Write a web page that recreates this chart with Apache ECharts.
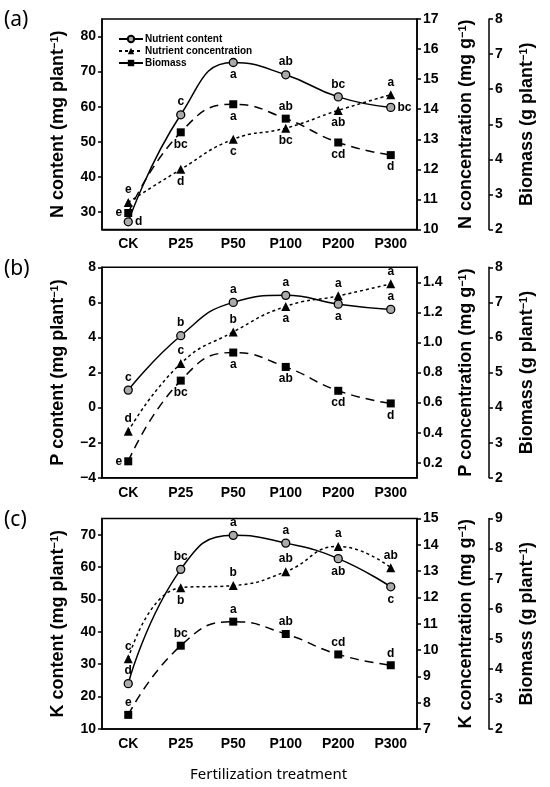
<!DOCTYPE html>
<html>
<head>
<meta charset="utf-8">
<script src="https://cdn.jsdelivr.net/npm/echarts@6/dist/echarts.min.js"></script>
<style>
  html, body { margin: 0; padding: 0; background: #fff; }
  #chart { width: 550px; height: 787px; }
</style>
</head>
<body>
<div id="chart"></div>
<script>
// treatments on the x axis
const categories = ["CK", "P25", "P50", "P100", "P200", "P300"];

// (a) nitrogen
const nContent = [27.2, 57.7, 72.6, 69.1, 62.8, 59.8];
const nConc = [10.9, 12.0, 13.0, 13.37, 13.96, 14.48];
// (b) phosphorus
const pContent = [1.0, 4.1, 6.0, 6.4, 5.9, 5.6];
const pConc = [0.41, 0.86, 1.07, 1.24, 1.31, 1.39];
// (c) potassium
const kContent = [24.0, 59.3, 69.8, 67.4, 62.6, 53.9];
const kConc = [9.67, 12.37, 12.45, 12.98, 13.94, 13.13];
// biomass is the same plants in every panel
const biomass = [2.47, 4.77, 5.57, 5.16, 4.48, 4.12];

// significance letters
const nContentSig = ["d", "c", "a", "ab", "bc", "bc"];
const nConcSig = ["e", "d", "c", "bc", "ab", "a"];
const nBioSig = ["e", "bc", "a", "ab", "cd", "d"];
const pContentSig = ["c", "b", "a", "a", "a", "a"];
const pConcSig = ["d", "c", "b", "a", "a", "a"];
const pBioSig = ["e", "bc", "a", "ab", "cd", "d"];
const kContentSig = ["d", "bc", "a", "a", "ab", "c"];
const kConcSig = ["c", "b", "b", "ab", "a", "ab"];
const kBioSig = ["e", "bc", "a", "ab", "cd", "d"];

// tick labels
const nContentTicks = [30, 40, 50, 60, 70, 80];
const nConcTicks = [10, 11, 12, 13, 14, 15, 16, 17];
const pContentTicks = [-4, -2, 0, 2, 4, 6, 8];
const pConcTicks = [0.2, 0.4, 0.6, 0.8, 1.0, 1.2, 1.4];
const kContentTicks = [10, 20, 30, 40, 50, 60, 70];
const kConcTicks = [7, 8, 9, 10, 11, 12, 13, 14, 15];
const bioTicksAB = [2, 3, 4, 5, 6, 7, 8];
const bioTicksC = [2, 3, 4, 5, 6, 7, 8, 9];

// where each letter sits (style only)
const labelPos = {
  nContent: ["right", "top", "bottom", "top", "top", "right"],
  nConc: ["top", "bottom", "bottom", "bottom", "bottom", "top"],
  nBio: ["left", "bottom", "bottom", "top", "bottom", "bottom"],
  pContent: ["top", "top", "top", "top", "bottom", "top"],
  pConc: ["top", "top", "top", "bottom", "top", "top"],
  pBio: ["left", "bottom", "bottom", "bottom", "bottom", "bottom"],
  kContent: ["top", "top", "top", "top", "bottom", "bottom"],
  kConc: ["top", "bottom", "top", "top", "top", "top"],
  kBio: ["top", "top", "top", "top", "top", "top"]
};

const FONT = "Liberation Sans, Arial, sans-serif";
const gridTops = [19, 267.3, 518.5];
const gridH = 210.5;

const panels = [
  {
    tag: "(a)", el: "N",
    content: nContent, conc: nConc, contentSig: nContentSig, concSig: nConcSig, bioSig: nBioSig,
    contentRange: [25, 85], contentTicks: nContentTicks,
    concRange: [10, 17], concTicks: nConcTicks, concFmt: v => String(v),
    bioRange: [2, 8], bioTicks: bioTicksAB,
    pos: ["nContent", "nConc", "nBio"]
  },
  {
    tag: "(b)", el: "P",
    content: pContent, conc: pConc, contentSig: pContentSig, concSig: pConcSig, bioSig: pBioSig,
    contentRange: [-4, 8], contentTicks: pContentTicks,
    concRange: [0.1, 1.5], concTicks: pConcTicks, concFmt: v => v.toFixed(1),
    bioRange: [2, 8], bioTicks: bioTicksAB,
    pos: ["pContent", "pConc", "pBio"]
  },
  {
    tag: "(c)", el: "K",
    content: kContent, conc: kConc, contentSig: kContentSig, concSig: kConcSig, bioSig: kBioSig,
    contentRange: [10, 75], contentTicks: kContentTicks,
    concRange: [7, 15], concTicks: kConcTicks, concFmt: v => String(v),
    bioRange: [2, 9], bioTicks: bioTicksC,
    pos: ["kContent", "kConc", "kBio"]
  }
];

const nameStyle = {
  fontFamily: FONT, fontSize: 18, fontWeight: "bold", color: "#000",
  rich: {
    sup: { fontFamily: FONT, fontSize: 11, fontWeight: "bold", color: "#000", verticalAlign: "top", padding: [0, 0, 8, 0] }
  }
};

function valueAxis(gridIndex, range, ticks, fmt, side, offset, name, nameGap) {
  return {
    type: "value",
    gridIndex: gridIndex,
    position: side,
    offset: offset,
    min: range[0],
    max: range[1],
    splitLine: { show: false },
    axisLine: { show: true, onZero: false, lineStyle: { color: "#000", width: 1.5 } },
    axisTick: { show: true, length: 4, customValues: ticks, lineStyle: { color: "#000", width: 1.5 } },
    axisLabel: {
      customValues: ticks,
      margin: 6,
      fontFamily: FONT, fontSize: 14, fontWeight: "bold", color: "#000",
      formatter: v => fmt(v).replace("-", "\u2212")
    },
    name: name,
    nameLocation: "middle",
    nameRotate: 90,
    nameGap: nameGap,
    nameTextStyle: nameStyle
  };
}

function pointData(values, sig, pos) {
  return values.map((v, j) => ({
    value: v,
    label: { formatter: sig[j], position: pos[j] }
  }));
}

const grids = [], xAxes = [], yAxes = [], series = [];

panels.forEach((p, i) => {
  grids.push({
    left: 102, width: 315, top: gridTops[i], height: gridH,
    show: true, borderColor: "#000", borderWidth: 1.5
  });
  xAxes.push({
    type: "category",
    gridIndex: i,
    data: categories,
    boundaryGap: true,
    axisLine: { onZero: false, lineStyle: { color: "#000", width: 1.5 } },
    axisTick: { alignWithLabel: true, length: 4, lineStyle: { color: "#000", width: 1.5 } },
    axisLabel: { margin: 8, fontFamily: FONT, fontSize: 14, fontWeight: "bold", color: "#000" }
  });
  yAxes.push(valueAxis(i, p.contentRange, p.contentTicks, v => String(v), "left", 0,
    p.el + " content (mg plant{sup|\u22121})", 34));
  yAxes.push(valueAxis(i, p.concRange, p.concTicks, p.concFmt, "right", 0,
    p.el + " concentration (mg g{sup|\u22121})", 40));
  yAxes.push(valueAxis(i, p.bioRange, p.bioTicks, v => String(v), "right", 72,
    "Biomass (g plant{sup|\u22121})", 29));

  const labelBase = {
    show: true, distance: 2, color: "#000",
    fontFamily: FONT, fontSize: 12, fontWeight: "bold"
  };
  series.push({
    name: "Nutrient content", type: "line", smooth: true, clip: false,
    xAxisIndex: i, yAxisIndex: i * 3,
    symbol: "circle", symbolSize: 8,
    itemStyle: { color: "#aaa", borderColor: "#000", borderWidth: 1.3 },
    lineStyle: { color: "#000", width: 1.5 },
    label: labelBase,
    data: pointData(p.content, p.contentSig, labelPos[p.pos[0]])
  });
  series.push({
    name: "Nutrient concentration", type: "line", smooth: true, clip: false,
    xAxisIndex: i, yAxisIndex: i * 3 + 1,
    symbol: "triangle", symbolSize: 9,
    itemStyle: { color: "#000" },
    lineStyle: { color: "#000", width: 1.5, type: [3, 3] },
    label: labelBase,
    data: pointData(p.conc, p.concSig, labelPos[p.pos[1]])
  });
  series.push({
    name: "Biomass", type: "line", smooth: true, clip: false,
    xAxisIndex: i, yAxisIndex: i * 3 + 2,
    symbol: "rect", symbolSize: 8,
    itemStyle: { color: "#000" },
    lineStyle: { color: "#000", width: 1.5, type: [9, 6] },
    label: labelBase,
    data: pointData(biomass, p.bioSig, labelPos[p.pos[2]])
  });
});

const panelTags = panels.map((p, i) => ({
  type: "text",
  left: 4,
  top: gridTops[i] - 9,
  style: { text: p.tag, font: "21px 'Noto Sans', 'Open Sans', sans-serif", fill: "#000" }
}));

const option = {
  animation: false,
  backgroundColor: "#fff",
  grid: grids,
  xAxis: xAxes,
  yAxis: yAxes,
  legend: {
    orient: "vertical",
    left: 113, top: 29,
    itemWidth: 24, itemHeight: 8, itemGap: 2,
    data: ["Nutrient content", "Nutrient concentration", "Biomass"],
    textStyle: { fontFamily: FONT, fontSize: 10, fontWeight: "bold", color: "#000", padding: [0, 0, 0, -3] }
  },
  graphic: panelTags.concat([{
    type: "text",
    left: 190, top: 767,
    style: { text: "Fertilization treatment", font: "15px 'Noto Sans', 'Open Sans', sans-serif", fill: "#000" }
  }]),
  series: series
};

const chart = echarts.init(document.getElementById("chart"));
chart.setOption(option);
</script>
</body>
</html>
